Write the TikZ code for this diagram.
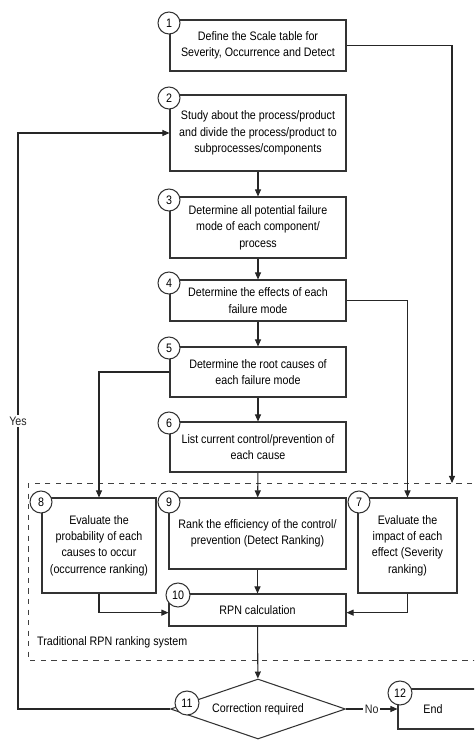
\documentclass[tikz,border=0pt]{standalone}
\usepackage{fontspec}
\setmainfont{Liberation Sans}[FakeStretch=0.87]
\usepackage{tikz}
\usetikzlibrary{positioning, arrows.meta, shapes.geometric}

\begin{document}
\begin{tikzpicture}[x=0.02cm, y=-0.02cm, font=\fontsize{7}{9.3}\selectfont,
    stepbox/.style={draw=black!80, line width=0.6pt, fill=white, align=center, inner sep=1pt},
    num/.style={draw=black!80, line width=0.6pt, fill=white, circle, minimum size=0.44cm, inner sep=0pt},
    arr/.style={-{Triangle[length=4pt,width=3.4pt]}, line width=0.6pt, black!85},
    ln/.style={line width=0.6pt, black!85}]
    \useasboundingbox (0,0) rectangle (474,740);
    \clip (0,0) rectangle (474,740);
    % dashed frame of the RPN system
    \draw[dashed, line width=0.5pt, black!75] (28,483) rectangle (500,660);
    \coordinate (ftop) at (452,483);
    \node[right] (trad) at (31,642) {Traditional RPN ranking system};
    % process steps
    \node[stepbox, minimum width=3.52cm, minimum height=1.02cm] (n1) at (258,45.5) {Define the Scale table for\\Severity, Occurrence and Detect};
    \node[stepbox, minimum width=3.52cm, minimum height=1.52cm] (n2) at (258,133) {Study about the process/product\\and divide the process/product to\\subprocesses/components};
    \node[stepbox, minimum width=3.52cm, minimum height=1.22cm] (n3) at (258,227.5) {Determine all potential failure\\mode of each component/\\process};
    \node[stepbox, minimum width=3.52cm, minimum height=0.82cm] (n4) at (258,300.5) {Determine the effects of each\\failure mode};
    \node[stepbox, minimum width=3.52cm, minimum height=1.0cm] (n5) at (258,372) {Determine the root causes of\\each failure mode};
    \node[stepbox, minimum width=3.52cm, minimum height=1.0cm] (n6) at (258,447) {List current control/prevention of\\each cause};
    \node[stepbox, minimum width=2.28cm, minimum height=1.9cm] (n8) at (99,545.5) {Evaluate the\\probability of each\\causes to occur\\(occurrence ranking)};
    \node[stepbox, minimum width=3.54cm, minimum height=1.42cm] (n9) at (257.5,533.5) {Rank the efficiency of the control/\\prevention (Detect Ranking)};
    \node[stepbox, minimum width=1.98cm, minimum height=1.9cm] (n7) at (407.5,545.5) {Evaluate the\\impact of each\\effect (Severity\\ranking)};
    \node[stepbox, minimum width=3.54cm, minimum height=0.64cm] (n10) at (257.5,610) {RPN calculation};
    \node[stepbox, diamond, aspect=2.9, minimum width=3.5cm, minimum height=1.2cm, inner sep=0pt] (n11) at (258,709) {Correction required};
    \node[stepbox, minimum width=2.04cm, minimum height=0.8cm] (n12) at (449,709) {};
    \node (endtxt) at (433,709) {End};
    % step numbers
    \node[num] (c1) at (169,23) {1};
    \node[num] (c2) at (169,98) {2};
    \node[num] (c3) at (169,200) {3};
    \node[num] (c4) at (169,283) {4};
    \node[num] (c5) at (169,348) {5};
    \node[num] (c6) at (169,423) {6};
    \node[num] (c8) at (41,502) {8};
    \node[num] (c9) at (169,502) {9};
    \node[num] (c7) at (359,502) {7};
    \node[num, minimum size=0.48cm] (c10) at (178,595) {10};
    \node[num, minimum size=0.48cm] (c11) at (187,703) {11};
    \node[num, minimum size=0.48cm] (c12) at (400,693) {12};
    % connectors
    \draw[arr] (n1.east) -| (ftop);
    \draw[arr] (n2) -- (n3);
    \draw[arr] (n3) -- (n4);
    \draw[arr] (n4) -- (n5);
    \draw[arr] (n5) -- (n6);
    \draw[arr] (n6) -- (n9);
    \draw[arr] (n4.east) -| (n7.north);
    \draw[arr] (n5.west) -| (n8.north);
    \draw[arr] (n9) -- (n10);
    \draw[arr] (n8.south) |- ([yshift=-1.5pt]n10.west);
    \draw[arr] (n7.south) |- ([yshift=-1.5pt]n10.east);
    \draw[arr] (n10) -- (n11);
    \coordinate (yb) at (18,709);
    \draw[arr] (n11.west) -- (yb) |- node[pos=0.25, fill=white, inner sep=1pt] {Yes} (n2.west);
    \draw[arr] (n11.east) -- node[fill=white, inner sep=1pt] {No} (n12.west);
\end{tikzpicture}
\end{document}
